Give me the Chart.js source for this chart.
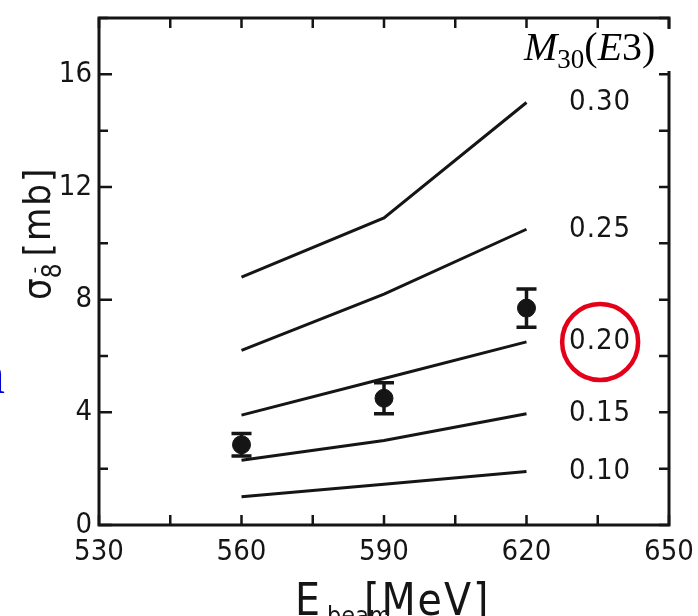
<!DOCTYPE html>
<html lang="en">
<head>
<meta charset="UTF-8" />
<title>sigma vs E_beam</title>
<script src="https://cdn.jsdelivr.net/npm/chart.js@4.4.1/dist/chart.umd.min.js"></script>
<style>
  body { margin: 0; background: #fff; }
  canvas { display: block; }
</style>
</head>
<body>
<canvas id="chart" width="698" height="616"></canvas>
<script>
// beam energies (MeV) where curves and data are given
const energies = [560, 590, 620];
// calculated cross sections for different M30(E3) values
const curveLabels = ["0.10", "0.15", "0.20", "0.25", "0.30"];
const curve010 = [1.0, 1.45, 1.9];
const curve015 = [2.3, 3.0, 3.95];
const curve020 = [3.9, 5.2, 6.5];
const curve025 = [6.2, 8.2, 10.5];
const curve030 = [8.8, 10.9, 15.0];
// measured points
const measured = [2.85, 4.5, 7.7];
const measuredErr = [0.4, 0.55, 0.68];
// axis labels
const xTickLabels = [530, 560, 590, 620, 650];
const yTickLabels = [0, 4, 8, 12, 16];
const highlighted = "0.20";

const INK = "#151515";
const NARROW = "'Liberation Sans Narrow', 'DejaVu Sans Condensed', sans-serif";

const curves = [curve010, curve015, curve020, curve025, curve030];
const pts = (ys) => energies.map((e, i) => ({ x: e, y: ys[i] }));

const lineSets = curves.map((c, i) => ({
  type: "line",
  label: curveLabels[i],
  data: pts(c),
  borderColor: INK,
  borderWidth: 3,
  pointRadius: 0,
  tension: 0,
  fill: false,
}));

const dataSet = {
  type: "scatter",
  label: "data",
  data: pts(measured),
  backgroundColor: INK,
  borderColor: INK,
  pointRadius: 9,
  pointHoverRadius: 9,
};

// frame, inward ticks, error bars, labels
const decorations = {
  id: "decorations",
  afterDatasetsDraw(chart) {
    const { ctx, chartArea: a, scales } = chart;
    const xs = scales.x, ys = scales.y;
    ctx.save();
    ctx.strokeStyle = INK;
    ctx.fillStyle = INK;

    // error bars
    ctx.lineWidth = 3.5;
    measured.forEach((v, i) => {
      const px = xs.getPixelForValue(energies[i]);
      const top = ys.getPixelForValue(v + measuredErr[i]);
      const bot = ys.getPixelForValue(v - measuredErr[i]);
      ctx.beginPath();
      ctx.moveTo(px, top); ctx.lineTo(px, bot);
      ctx.moveTo(px - 10, top); ctx.lineTo(px + 10, top);
      ctx.moveTo(px - 10, bot); ctx.lineTo(px + 10, bot);
      ctx.stroke();
    });

    // frame
    ctx.lineWidth = 3;
    ctx.strokeRect(a.left, a.top, a.right - a.left, a.bottom - a.top);

    // ticks pointing inward
    ctx.lineWidth = 2.5;
    ctx.beginPath();
    xs.ticks.forEach((t) => {
      const px = xs.getPixelForValue(t.value);
      ctx.moveTo(px, a.bottom); ctx.lineTo(px, a.bottom - 10);
      ctx.moveTo(px, a.top); ctx.lineTo(px, a.top + 10);
    });
    ys.ticks.forEach((t) => {
      const py = ys.getPixelForValue(t.value);
      const len = yTickLabels.includes(t.value) ? 13 : 9;
      ctx.moveTo(a.left, py); ctx.lineTo(a.left + len, py);
      ctx.moveTo(a.right, py); ctx.lineTo(a.right - 10, py);
    });
    ctx.stroke();

    // curve labels at the right
    ctx.font = "29px " + NARROW;
    ctx.textAlign = "center";
    ctx.textBaseline = "middle";
    ctx.letterSpacing = "1px";
    const lx = xs.getPixelForValue(635.5);
    curves.forEach((c, i) => {
      const py = ys.getPixelForValue(c[c.length - 1]);
      ctx.fillText(curveLabels[i], lx, py);
      if (curveLabels[i] === highlighted) {
        ctx.save();
        ctx.strokeStyle = "#e5001a";
        ctx.lineWidth = 4.5;
        ctx.beginPath();
        ctx.arc(lx, py, 38, 0, Math.PI * 2);
        ctx.stroke();
        ctx.restore();
      }
    });
    ctx.letterSpacing = "0px";

    // M30(E3) label on a white patch
    ctx.fillStyle = "#fff";
    ctx.fillRect(a.right - 150, a.top + 11, 153, 42);
    ctx.fillStyle = "#000";
    ctx.textAlign = "left";
    ctx.textBaseline = "alphabetic";
    let x = a.right - 145;
    const base = a.top + 42;
    const part = (txt, font, dy) => {
      ctx.font = font;
      ctx.fillText(txt, x, base + dy);
      x += ctx.measureText(txt).width;
    };
    part("M", "italic 40px 'Liberation Serif', serif", 0);
    part("30", "27px 'Liberation Serif', serif", 8);
    part("(", "40px 'Liberation Serif', serif", 0);
    part("E", "italic 40px 'Liberation Serif', serif", 0);
    part("3", "40px 'Liberation Serif', serif", 0);
    part(")", "40px 'Liberation Serif', serif", 0);

    // x axis title: E_beam[MeV]
    ctx.fillStyle = INK;
    const seg = (txt, font, px, yb) => {
      ctx.font = font;
      ctx.fillText(txt, px, yb);
      return px + ctx.measureText(txt).width;
    };
    seg("E", "44px " + NARROW, 295, 615);
    seg("beam", "25px " + NARROW, 327, 624);
    ctx.letterSpacing = "2px";
    seg("[MeV]", "44px " + NARROW, 364, 615);
    ctx.letterSpacing = "0px";

    // y axis title: sigma_8- [mb]
    ctx.save();
    ctx.translate(50, 300);
    ctx.rotate(-Math.PI / 2);
    x = seg("σ", "38px " + NARROW, 0, 0);
    const after8 = seg("8", "26px " + NARROW, x, 11);
    ctx.font = "20px " + NARROW;
    ctx.fillText("-", x + 5, -9);
    ctx.letterSpacing = "2px";
    seg("[mb]", "38px " + NARROW, after8 + 7, 0);
    ctx.restore();
    ctx.letterSpacing = "0px";

    // cut-off blue letter at the left edge
    ctx.fillStyle = "#0000d0";
    ctx.font = "56px 'Liberation Serif', serif";
    ctx.fillText("n", -23, 393);

    ctx.restore();
  },
};

new Chart(document.getElementById("chart"), {
  data: { datasets: [...lineSets, dataSet] },
  options: {
    responsive: false,
    animation: false,
    events: [],
    layout: { padding: { top: 18, right: 29, left: 0, bottom: 0 } },
    plugins: { legend: { display: false }, tooltip: { enabled: false } },
    scales: {
      x: {
        type: "linear",
        min: 530,
        max: 650,
        grid: { display: false, drawTicks: false },
        border: { display: false },
        ticks: {
          stepSize: 15,
          padding: 10,
          color: INK,
          font: { family: NARROW, size: 29 },
          maxRotation: 0,
          autoSkip: false,
          callback: (v) => (xTickLabels.includes(v) ? String(v) : ""),
        },
        afterFit: (s) => {
          s.height = 91;
          s.paddingLeft = 0;
          s.paddingRight = 0;
        },
      },
      y: {
        min: 0,
        max: 18,
        grid: { display: false, drawTicks: false },
        border: { display: false },
        ticks: {
          stepSize: 2,
          padding: 7,
          color: INK,
          font: { family: NARROW, size: 29 },
          autoSkip: false,
          callback: (v) => (yTickLabels.includes(v) ? String(v) : ""),
        },
        afterFit: (s) => {
          s.width = 99;
          s.paddingTop = 0;
          s.paddingBottom = 0;
        },
      },
    },
  },
  plugins: [decorations],
});
</script>
</body>
</html>
